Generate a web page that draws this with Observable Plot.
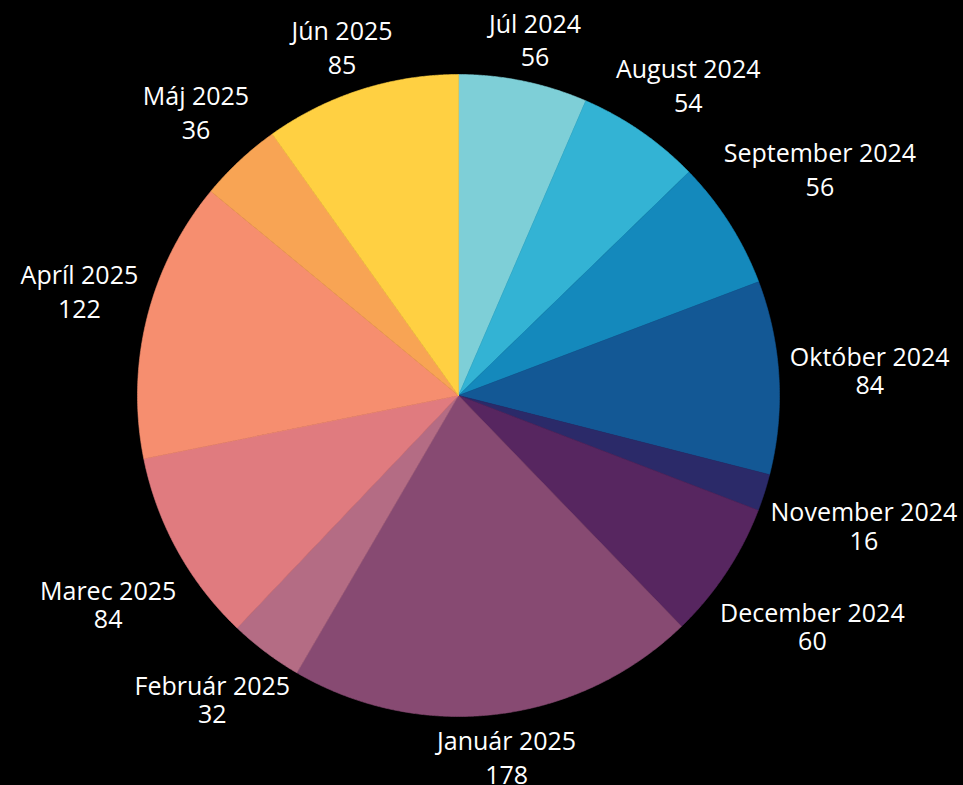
<!DOCTYPE html>
<html>
<head>
<meta charset="utf-8">
<script src="https://cdn.jsdelivr.net/npm/d3@7"></script>
<script src="https://cdn.jsdelivr.net/npm/@observablehq/plot@0.6"></script>
<style>
  html, body { margin: 0; padding: 0; background: #000; }
  #chart svg { display: block; }
</style>
</head>
<body>
<div id="chart"></div>
<script>
// Data
const months = ["Júl 2024", "August 2024", "September 2024", "Október 2024", "November 2024", "December 2024",
                "Január 2025", "Február 2025", "Marec 2025", "Apríl 2025", "Máj 2025", "Jún 2025"];
const counts = [56, 54, 56, 84, 16, 60, 178, 32, 84, 122, 36, 85];
const colors = ["#7ECFD7", "#33B3D4", "#1489BC", "#135895", "#2B2A69", "#572660",
                "#874A72", "#B46C84", "#E07B7F", "#F68E6F", "#F8A454", "#FFD042"];

const W = 963, H = 785;
const CX = 458, CY = 395, R = 321;
const FONT = "Open Sans";
const FS = 25;

const pie = d3.pie().sort(null).value(d => d.value)(months.map((m, i) => ({name: m, value: counts[i], color: colors[i]})));

// slice polygons
const polys = [];
for (const a of pie) {
  const n = Math.max(4, Math.ceil((a.endAngle - a.startAngle) / 0.005));
  polys.push({name: a.data.name, color: a.data.color, x: 0, y: 0});
  for (let k = 0; k <= n; k++) {
    const t = a.startAngle + (a.endAngle - a.startAngle) * k / n;
    polys.push({name: a.data.name, color: a.data.color, x: R * Math.sin(t), y: R * Math.cos(t)});
  }
  polys.push({name: a.data.name, color: a.data.color, x: 0, y: 0});
}

// label layout
const ctx = document.createElement("canvas").getContext("2d");
ctx.font = `${FS}px "${FONT}"`;
const labels = [];
for (const a of pie) {
  const th = (a.startAngle + a.endAngle) / 2;
  const s = Math.sin(th), c = Math.cos(th);
  const w = Math.max(ctx.measureText(a.data.name).width, ctx.measureText(String(a.data.value)).width);
  const xc = s * (332 + w / 2);
  const yc = 293 * c + 70 * Math.sign(c) * Math.min(1, Math.abs(c) / 0.5);
  const gap = (c > 0.1 || c < -0.9) ? 33.5 : 28.5;
  labels.push({text: a.data.name + "\n" + a.data.value, x: xc, y: yc, gap});
}
const gaps = Array.from(new Set(labels.map(d => d.gap)));

const chart = Plot.plot({
  width: W,
  height: H,
  margin: 0,
  style: {background: "#000", fontFamily: FONT},
  x: {domain: [-CX, W - CX], range: [0, W], axis: null},
  y: {domain: [-(H - CY), CY], range: [H, 0], axis: null},
  color: {type: "identity"},
  marks: [
    Plot.line(polys, {x: "x", y: "y", z: "name", fill: "color", stroke: "color", strokeWidth: 0.6, curve: "linear"}),
    ...gaps.map(g => Plot.text(labels.filter(d => d.gap === g), {
      x: "x", y: "y", text: "text", fill: "white", fontSize: FS, fontFamily: FONT,
      textAnchor: "middle", lineAnchor: "middle", lineHeight: g / FS
    }))
  ]
});
document.getElementById("chart").appendChild(chart);
</script>
</body>
</html>
